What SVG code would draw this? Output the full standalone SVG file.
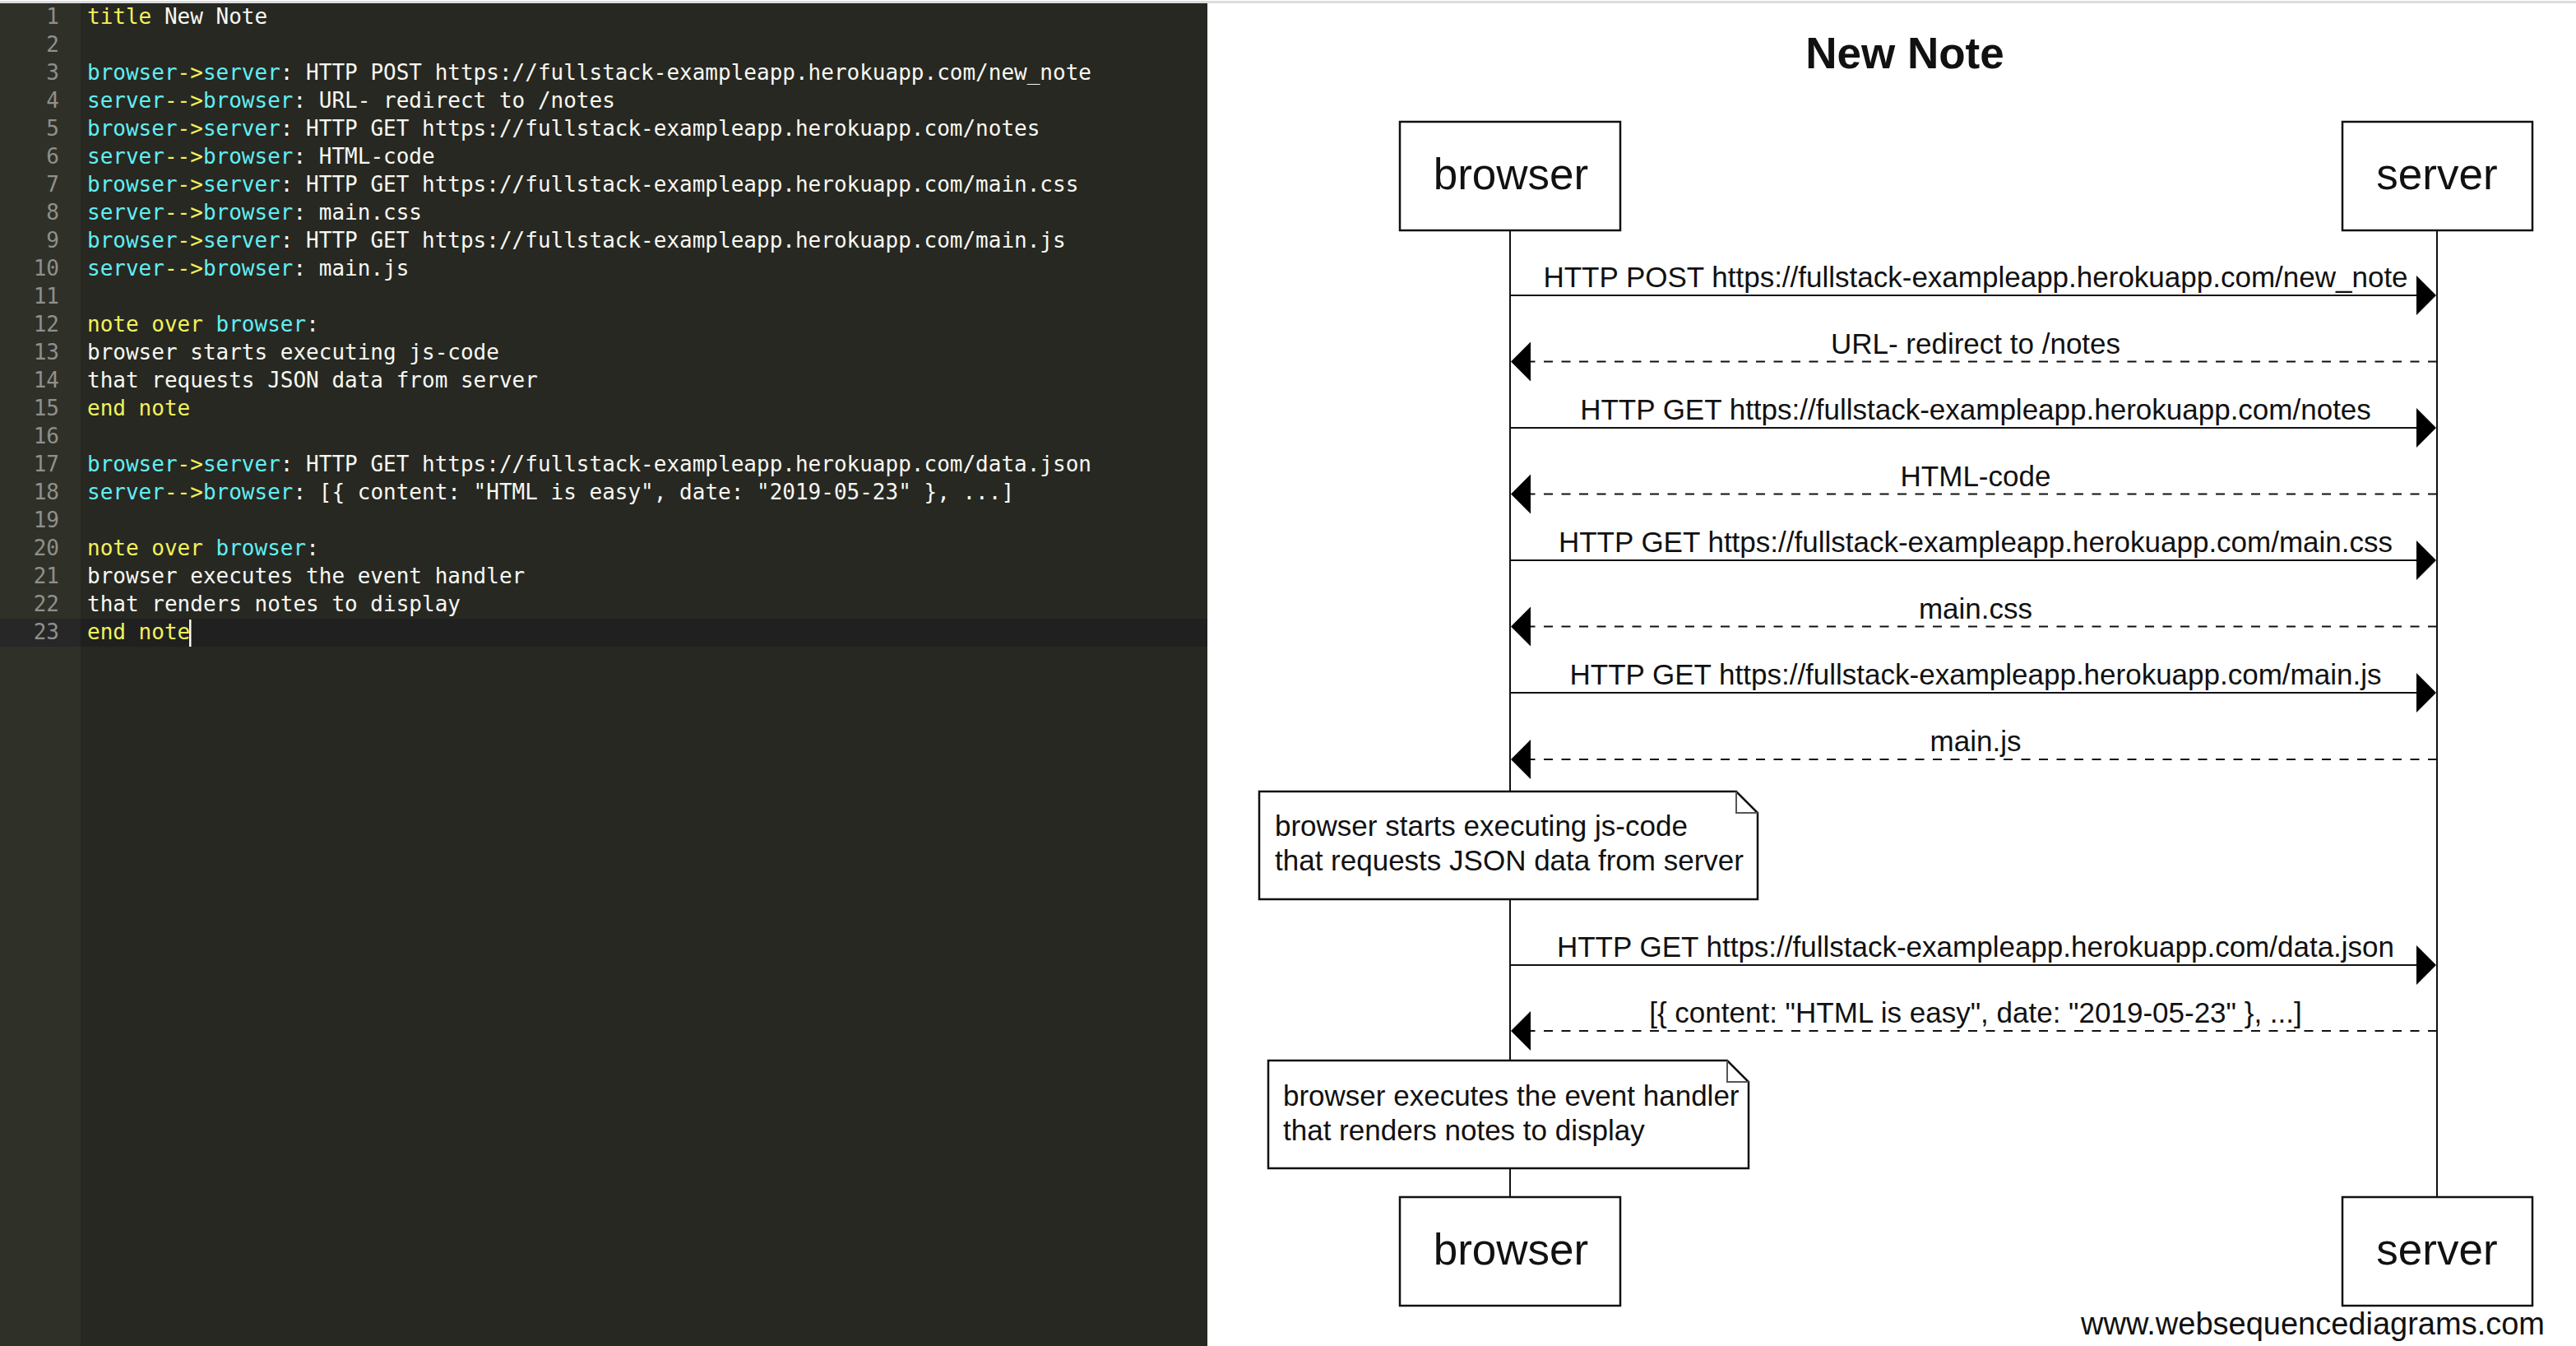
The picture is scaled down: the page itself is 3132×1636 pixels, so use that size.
<svg xmlns="http://www.w3.org/2000/svg" width="3132" height="1636" viewBox="0 0 3132 1636">
  <style>
    .code { font-family: "DejaVu Sans Mono", monospace; font-size: 26px; fill: #f8f8f2; white-space: pre; }
    .kw { fill: #f2f25c; }
    .id { fill: #62eef2; }
    .ln { font-family: "DejaVu Sans Mono", monospace; font-size: 26px; fill: #8f908a; text-anchor: end; }
    .title { font-family: "Liberation Sans", Arial, sans-serif; font-size: 53px; font-weight: bold; fill: #111; text-anchor: middle; }
    .actor-box { fill: #fff; stroke: #111; stroke-width: 2.5; }
    .actor-label { font-family: "Liberation Sans", Arial, sans-serif; font-size: 53px; fill: #111; text-anchor: middle; }
    .lifeline { stroke: #111; stroke-width: 2; }
    .msg { stroke: #111; stroke-width: 2; fill: none; }
    .reply { stroke-dasharray: 11 10.5; }
    .msg-label { font-family: "Liberation Sans", Arial, sans-serif; font-size: 35px; fill: #111; text-anchor: middle; }
    .note-body { fill: #fff; stroke: #111; stroke-width: 2.5; }
    .note-fold { fill: none; stroke: #555; stroke-width: 2; }
    .note-text { font-family: "Liberation Sans", Arial, sans-serif; font-size: 35px; fill: #111; }
    .credit { font-family: "Liberation Sans", Arial, sans-serif; font-size: 38px; fill: #111; text-anchor: end; }
  </style>
  <defs>
    <marker id="head" markerUnits="userSpaceOnUse" markerWidth="26" markerHeight="50" viewBox="0 -25 26 50" refX="0" refY="0" orient="auto">
      <path d="M0,-24 L24,0 L0,24 Z" fill="#000"/>
    </marker>
  </defs>

  <!-- page background -->
  <rect x="0" y="0" width="3132" height="1636" fill="#fff"/>
  <rect x="0" y="1" width="3132" height="3" fill="#dcdcdc"/>

  <!-- editor pane -->
  <g id="editor">
    <rect x="0" y="4" width="1468" height="1632" fill="#272822"/>
    <rect x="0" y="4" width="98" height="1632" fill="#2f3129"/>
    <!-- active line -->
    <rect x="0" y="752" width="98" height="34" fill="#272727"/>
    <rect x="98" y="752" width="1370" height="34" fill="#202020"/>

    <g id="line-numbers">
      <text class="ln" x="72" y="29">1</text>
      <text class="ln" x="72" y="63">2</text>
      <text class="ln" x="72" y="97">3</text>
      <text class="ln" x="72" y="131">4</text>
      <text class="ln" x="72" y="165">5</text>
      <text class="ln" x="72" y="199">6</text>
      <text class="ln" x="72" y="233">7</text>
      <text class="ln" x="72" y="267">8</text>
      <text class="ln" x="72" y="301">9</text>
      <text class="ln" x="72" y="335">10</text>
      <text class="ln" x="72" y="369">11</text>
      <text class="ln" x="72" y="403">12</text>
      <text class="ln" x="72" y="437">13</text>
      <text class="ln" x="72" y="471">14</text>
      <text class="ln" x="72" y="505">15</text>
      <text class="ln" x="72" y="539">16</text>
      <text class="ln" x="72" y="573">17</text>
      <text class="ln" x="72" y="607">18</text>
      <text class="ln" x="72" y="641">19</text>
      <text class="ln" x="72" y="675">20</text>
      <text class="ln" x="72" y="709">21</text>
      <text class="ln" x="72" y="743">22</text>
      <text class="ln" x="72" y="777">23</text>
    </g>

    <g id="source">
      <text class="code" x="106" y="29"><tspan class="kw">title</tspan> New Note</text>
      <text class="code" x="106" y="97"><tspan class="id">browser</tspan><tspan class="kw">-&gt;</tspan><tspan class="id">server</tspan>: HTTP POST https://fullstack-exampleapp.herokuapp.com/new_note</text>
      <text class="code" x="106" y="131"><tspan class="id">server</tspan><tspan class="kw">--&gt;</tspan><tspan class="id">browser</tspan>: URL- redirect to /notes</text>
      <text class="code" x="106" y="165"><tspan class="id">browser</tspan><tspan class="kw">-&gt;</tspan><tspan class="id">server</tspan>: HTTP GET https://fullstack-exampleapp.herokuapp.com/notes</text>
      <text class="code" x="106" y="199"><tspan class="id">server</tspan><tspan class="kw">--&gt;</tspan><tspan class="id">browser</tspan>: HTML-code</text>
      <text class="code" x="106" y="233"><tspan class="id">browser</tspan><tspan class="kw">-&gt;</tspan><tspan class="id">server</tspan>: HTTP GET https://fullstack-exampleapp.herokuapp.com/main.css</text>
      <text class="code" x="106" y="267"><tspan class="id">server</tspan><tspan class="kw">--&gt;</tspan><tspan class="id">browser</tspan>: main.css</text>
      <text class="code" x="106" y="301"><tspan class="id">browser</tspan><tspan class="kw">-&gt;</tspan><tspan class="id">server</tspan>: HTTP GET https://fullstack-exampleapp.herokuapp.com/main.js</text>
      <text class="code" x="106" y="335"><tspan class="id">server</tspan><tspan class="kw">--&gt;</tspan><tspan class="id">browser</tspan>: main.js</text>
      <text class="code" x="106" y="403"><tspan class="kw">note over</tspan> <tspan class="id">browser</tspan>:</text>
      <text class="code" x="106" y="437">browser starts executing js-code</text>
      <text class="code" x="106" y="471">that requests JSON data from server</text>
      <text class="code" x="106" y="505"><tspan class="kw">end note</tspan></text>
      <text class="code" x="106" y="573"><tspan class="id">browser</tspan><tspan class="kw">-&gt;</tspan><tspan class="id">server</tspan>: HTTP GET https://fullstack-exampleapp.herokuapp.com/data.json</text>
      <text class="code" x="106" y="607"><tspan class="id">server</tspan><tspan class="kw">--&gt;</tspan><tspan class="id">browser</tspan>: [{ content: "HTML is easy", date: "2019-05-23" }, ...]</text>
      <text class="code" x="106" y="675"><tspan class="kw">note over</tspan> <tspan class="id">browser</tspan>:</text>
      <text class="code" x="106" y="709">browser executes the event handler</text>
      <text class="code" x="106" y="743">that renders notes to display</text>
      <text class="code" x="106" y="777"><tspan class="kw">end note</tspan></text>
    </g>
    <!-- text cursor -->
    <rect x="230" y="753" width="2.5" height="33" fill="#f8f8f0"/>
  </g>

  <!-- sequence diagram -->
  <text class="title" x="2316" y="83">New Note</text>

  <g id="lifelines">
    <line class="lifeline" x1="1836" y1="280" x2="1836" y2="1455"/>
    <line class="lifeline" x1="2963" y1="280" x2="2963" y2="1455"/>
  </g>

  <g id="browser-top">
    <rect class="actor-box" x="1702" y="148" width="268" height="132"/>
    <text class="actor-label" x="1837" y="230">browser</text>
  </g>
  <g id="server-top">
    <rect class="actor-box" x="2848" y="148" width="231" height="132"/>
    <text class="actor-label" x="2963" y="230">server</text>
  </g>

  <g id="connectors">
    <line class="msg" x1="1836" y1="359" x2="2938" y2="359" marker-end="url(#head)"/>
    <text class="msg-label" x="2402" y="349">HTTP POST https://fullstack-exampleapp.herokuapp.com/new_note</text>

    <line class="msg reply" x1="2963" y1="439.5" x2="1861" y2="439.5" marker-end="url(#head)"/>
    <text class="msg-label" x="2402" y="429.5">URL- redirect to /notes</text>

    <line class="msg" x1="1836" y1="520" x2="2938" y2="520" marker-end="url(#head)"/>
    <text class="msg-label" x="2402" y="510">HTTP GET https://fullstack-exampleapp.herokuapp.com/notes</text>

    <line class="msg reply" x1="2963" y1="600.5" x2="1861" y2="600.5" marker-end="url(#head)"/>
    <text class="msg-label" x="2402" y="590.5">HTML-code</text>

    <line class="msg" x1="1836" y1="681" x2="2938" y2="681" marker-end="url(#head)"/>
    <text class="msg-label" x="2402" y="671">HTTP GET https://fullstack-exampleapp.herokuapp.com/main.css</text>

    <line class="msg reply" x1="2963" y1="761.5" x2="1861" y2="761.5" marker-end="url(#head)"/>
    <text class="msg-label" x="2402" y="751.5">main.css</text>

    <line class="msg" x1="1836" y1="842" x2="2938" y2="842" marker-end="url(#head)"/>
    <text class="msg-label" x="2402" y="832">HTTP GET https://fullstack-exampleapp.herokuapp.com/main.js</text>

    <line class="msg reply" x1="2963" y1="923" x2="1861" y2="923" marker-end="url(#head)"/>
    <text class="msg-label" x="2402" y="913">main.js</text>

    <line class="msg" x1="1836" y1="1173" x2="2938" y2="1173" marker-end="url(#head)"/>
    <text class="msg-label" x="2402" y="1163">HTTP GET https://fullstack-exampleapp.herokuapp.com/data.json</text>

    <line class="msg reply" x1="2963" y1="1253" x2="1861" y2="1253" marker-end="url(#head)"/>
    <text class="msg-label" x="2402" y="1243">[{ content: "HTML is easy", date: "2019-05-23" }, ...]</text>
  </g>

  <g id="note-js">
    <path class="note-body" d="M1531,962 H2111 L2137,988 V1093 H1531 Z"/>
    <path class="note-fold" d="M2111,962 V988 H2137"/>
    <text class="note-text" x="1550" y="1016">browser starts executing js-code</text>
    <text class="note-text" x="1550" y="1058">that requests JSON data from server</text>
  </g>

  <g id="note-render">
    <path class="note-body" d="M1542,1289 H2100 L2126,1315 V1420 H1542 Z"/>
    <path class="note-fold" d="M2100,1289 V1315 H2126"/>
    <text class="note-text" x="1560" y="1344">browser executes the event handler</text>
    <text class="note-text" x="1560" y="1386">that renders notes to display</text>
  </g>

  <g id="browser-bottom">
    <rect class="actor-box" x="1702" y="1455" width="268" height="132"/>
    <text class="actor-label" x="1837" y="1537">browser</text>
  </g>
  <g id="server-bottom">
    <rect class="actor-box" x="2848" y="1455" width="231" height="132"/>
    <text class="actor-label" x="2963" y="1537">server</text>
  </g>

  <text class="credit" x="3094" y="1622">www.websequencediagrams.com</text>
</svg>
